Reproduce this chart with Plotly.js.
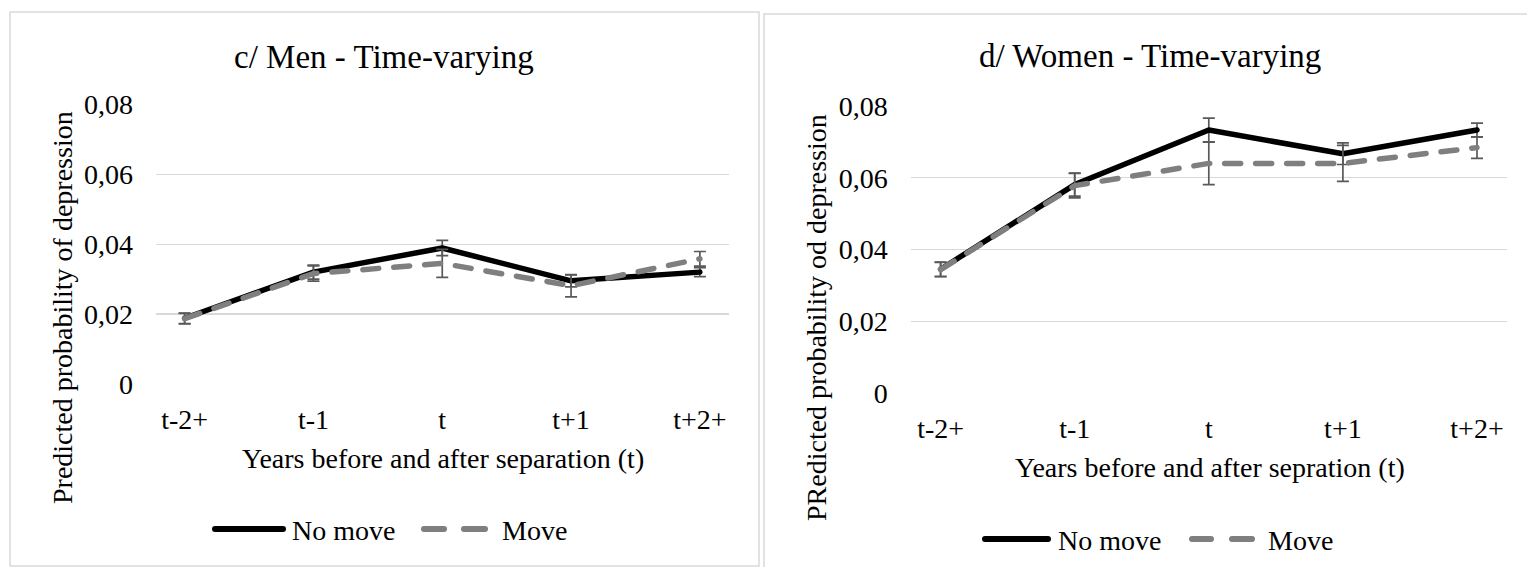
<!DOCTYPE html>
<html>
<head>
<meta charset="utf-8">
<script src="https://cdn.plot.ly/plotly-3.0.1.min.js"></script>
<style>
html,body{margin:0;padding:0;background:#fff;}
#chart{width:1527px;height:567px;}
.scatterlayer .js-line{stroke-linecap:round;stroke-linejoin:round;}
</style>
</head>
<body>
<div id="chart"></div>
<script>
// ---- data ----
const categories = ["t-2+", "t-1", "t", "t+1", "t+2+"];
const menNoMove = [0.0188, 0.0320, 0.0389, 0.0295, 0.0320];
const menNoMoveErr = [0.0015, 0.0020, 0.0022, 0.0017, 0.0013];
const menMove = [0.0187, 0.0316, 0.0345, 0.0281, 0.0358];
const menMoveErr = [0.0015, 0.0022, 0.0040, 0.0032, 0.0021];
const womenNoMove = [0.0345, 0.0581, 0.0733, 0.0667, 0.0733];
const womenNoMoveErr = [0.0020, 0.0032, 0.0033, 0.0030, 0.0019];
const womenMove = [0.0344, 0.0578, 0.0640, 0.0640, 0.0684];
const womenMoveErr = [0.0020, 0.0034, 0.0059, 0.0050, 0.0030];
const yTickVals = [0, 0.02, 0.04, 0.06, 0.08];
const yTickText = ["0", "0,02", "0,04", "0,06", "0,08"];
const seriesNames = ["No move", "Move"];
const titles = ["c/ Men - Time-varying", "d/ Women - Time-varying"];
const xTitles = ["Years before and after separation (t)", "Years before and after sepration (t)"];
const yTitles = ["Predicted probability of depression", "PRedicted probability od depression"];

// ---- styling ----
const W = 1527, H = 567;
const px = v => v / W;
const py = v => 1 - v / H;
const FONT = "'Liberation Serif', 'Times New Roman', 'DejaVu Serif', serif";
const BLACK = "#000000", GRAY = "#7f7f7f", ERR = "#595959", GRID = "#d9d9d9";

function err(arr) {
  return {type: "data", array: arr, symmetric: true, color: ERR, thickness: 1.7, width: 6};
}
function trace(y, e, name, xa, ya, dashed) {
  return {
    x: categories, y: y, name: name, xaxis: xa, yaxis: ya,
    type: "scatter", mode: "lines", showlegend: false,
    line: dashed ? {color: GRAY, width: 5.5, dash: "16px,15px"} : {color: BLACK, width: 5.5},
    error_y: err(e), hoverinfo: "x+y"
  };
}

const data = [
  trace(menNoMove, menNoMoveErr, seriesNames[0], "x", "y", false),
  trace(menMove, menMoveErr, seriesNames[1], "x", "y", true),
  trace(womenNoMove, womenNoMoveErr, seriesNames[0], "x2", "y2", false),
  trace(womenMove, womenMoveErr, seriesNames[1], "x2", "y2", true)
];

function xaxis(domain) {
  return {
    domain: domain, type: "category", showgrid: false, zeroline: false, showline: false,
    ticks: "", ticklabelstandoff: 16, tickfont: {family: FONT, size: 28, color: "#000"},
    fixedrange: true
  };
}
function yaxis(domain, anchor) {
  return {
    domain: domain, anchor: anchor, range: [0, 0.08], tickvals: yTickVals, ticktext: yTickText,
    showgrid: true, gridcolor: GRID, gridwidth: 1.3, zeroline: false, showline: false, ticks: "",
    ticklabelstandoff: 22, tickfont: {family: FONT, size: 28, color: "#000"}, fixedrange: true
  };
}

function txt(text, x, y, size, opts) {
  return Object.assign({
    text: text, xref: "paper", yref: "paper", x: px(x), y: py(y),
    xanchor: "center", yanchor: "middle", showarrow: false,
    font: {family: FONT, size: size, color: "#000"}
  }, opts || {});
}
function seg(x0, x1, y, color, width) {
  return {type: "line", xref: "paper", yref: "paper", x0: px(x0), x1: px(x1), y0: py(y), y1: py(y),
    line: {color: color, width: width}};
}

const annotations = [
  txt(titles[0], 384, 57, 33),
  txt(titles[1], 1150, 56, 33),
  txt(xTitles[0], 443, 458, 28),
  txt(xTitles[1], 1210, 467, 28),
  txt(yTitles[0], 62, 308, 28, {textangle: -90}),
  txt(yTitles[1], 816, 318, 28, {textangle: -90}),
  txt(seriesNames[0], 290, 530, 28, {xanchor: "left"}),
  txt(seriesNames[1], 500, 530, 28, {xanchor: "left"}),
  txt(seriesNames[0], 1056, 540, 28, {xanchor: "left"}),
  txt(seriesNames[1], 1266, 540, 28, {xanchor: "left"})
];

const shapes = [
  // panel borders
  {type: "rect", xref: "paper", yref: "paper", x0: px(10), x1: px(759), y0: py(566), y1: py(12),
    line: {color: GRID, width: 1.5}},
  {type: "line", xref: "paper", yref: "paper", x0: px(764), x1: px(1527), y0: py(14), y1: py(14),
    line: {color: GRID, width: 1.5}},
  {type: "line", xref: "paper", yref: "paper", x0: px(764), x1: px(764), y0: py(14), y1: py(567),
    line: {color: GRID, width: 1.5}},
  // legend samples
  seg(215, 283, 529, BLACK, 6),
  seg(424, 444, 529, GRAY, 6),
  seg(464, 485, 529, GRAY, 6),
  seg(985, 1048, 539, BLACK, 6),
  seg(1192, 1211, 539, GRAY, 6),
  seg(1232, 1252, 539, GRAY, 6)
];

const layout = {
  width: W, height: H, margin: {l: 0, r: 0, t: 0, b: 0},
  paper_bgcolor: "#fff", plot_bgcolor: "rgba(0,0,0,0)",
  font: {family: FONT},
  showlegend: false,
  xaxis: xaxis([px(156), px(728.5)]),
  yaxis: yaxis([1 - 384 / H, 1 - 104.3 / H], "x"),
  xaxis2: Object.assign(xaxis([px(910.8), px(1506.8)]), {anchor: "y2"}),
  yaxis2: yaxis([1 - 393 / H, 1 - 106 / H], "x2"),
  annotations: annotations,
  shapes: shapes
};
layout.xaxis.anchor = "y";

Plotly.newPlot("chart", data, layout, {displayModeBar: false, staticPlot: true}).then(() => {
  document.querySelectorAll(".shapelayer path").forEach(p => p.style.strokeLinecap = "round");
});
</script>
</body>
</html>
